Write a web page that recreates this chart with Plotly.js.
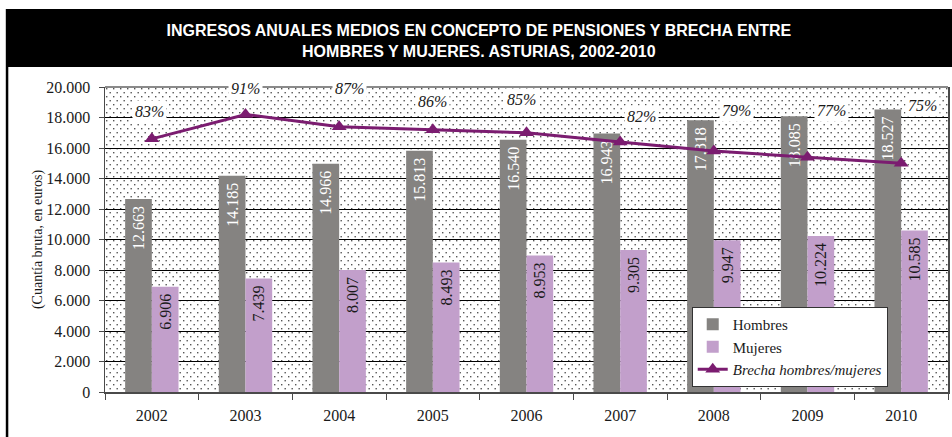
<!DOCTYPE html>
<html>
<head>
<meta charset="utf-8">
<script src="https://cdn.plot.ly/plotly-3.0.1.min.js"></script>
<style>html,body{margin:0;padding:0;background:#fff;}#chart{width:952px;height:437px;}</style>
</head>
<body>
<div id="chart"></div>
<script>
// ---- data ----
const years = ['2002','2003','2004','2005','2006','2007','2008','2009','2010'];
const hombres = [12663, 14185, 14966, 15813, 16540, 16943, 17818, 18085, 18527];
const mujeres = [6906, 7439, 8007, 8493, 8953, 9305, 9947, 10224, 10585];
const brecha = [83, 91, 87, 86, 85, 82, 79, 77, 75];
const titleText = 'INGRESOS ANUALES MEDIOS EN CONCEPTO DE PENSIONES Y BRECHA ENTRE<br>HOMBRES Y MUJERES. ASTURIAS, 2002-2010';
const yTitle = '(Cuantía bruta, en euros)';
const seriesNames = ['Hombres', 'Mujeres', 'Brecha hombres/mujeres'];

// ---- label offsets (pixels, styling only) ----
const pctShiftX = [-2, 0, 10, 0, -5, 21, 23, 24, 21];
const pctShiftY = [27, 26, 38, 28, 33, 25, 41, 47, 58];

const serif = "'Liberation Serif', 'Times New Roman', serif";

// dotted pattern background
const pw = 843, ph = 305;
const svg = `<svg xmlns="http://www.w3.org/2000/svg" width="${pw}" height="${ph}"><defs><pattern id="p" width="7" height="8" patternUnits="userSpaceOnUse"><rect width="7" height="8" fill="#ffffff"/><rect x="1" y="1" width="1.4" height="1.4" fill="#555555"/><rect x="4.5" y="5" width="1.4" height="1.4" fill="#555555"/></pattern></defs><rect width="${pw}" height="${ph}" fill="url(#p)"/></svg>`;
const bgSrc = 'data:image/svg+xml;charset=utf-8,' + encodeURIComponent(svg);

const traces = [
  {
    type: 'bar', name: seriesNames[0], x: years, y: hombres,
    marker: {color: '#858381'},
    texttemplate: '%{y:,.0f}\u00a0', textposition: 'inside',
    insidetextanchor: 'end', textangle: -90,
    textfont: {family: serif, size: 16, color: '#ffffff'},
    hoverinfo: 'x+y'
  },
  {
    type: 'bar', name: seriesNames[1], x: years, y: mujeres,
    marker: {color: '#c29fcb'},
    texttemplate: '%{y:,.0f}\u00a0', textposition: 'inside',
    insidetextanchor: 'end', textangle: -90,
    textfont: {family: serif, size: 16, color: '#1a1a1a'},
    hoverinfo: 'x+y'
  },
  {
    type: 'scatter', mode: 'lines+markers', name: '<i>' + seriesNames[2] + '</i>',
    x: years, y: brecha, yaxis: 'y2',
    line: {color: '#7b1c70', width: 3},
    marker: {symbol: 'triangle-up', size: 13, color: '#7b1c70'},
    hoverinfo: 'x+y'
  }
];

const annotations = brecha.map((v, i) => ({
  x: i, y: v, xref: 'x', yref: 'y2',
  text: '<i>' + v + '%</i>', showarrow: false,
  xshift: pctShiftX[i], yshift: pctShiftY[i],
  font: {family: serif, size: 16, color: '#1a1a1a'},
  bgcolor: '#ffffff', borderpad: 2
}));

const layout = {
  width: 952, height: 437,
  margin: {l: 105, r: 4, t: 87, b: 45},
  paper_bgcolor: '#ffffff', plot_bgcolor: '#ffffff',
  separators: ',.',
  barmode: 'group', bargap: 0.43, bargroupgap: 0,
  font: {family: serif, size: 16, color: '#1a1a1a'},
  title: {
    text: titleText, x: 0.503, xanchor: 'center', y: 0.917, yanchor: 'middle',
    font: {family: "'Liberation Sans', Arial, sans-serif", size: 16, color: '#ffffff', weight: 'bold'}
  },
  xaxis: {
    type: 'category', range: [-0.5, years.length - 0.5], autorange: false,
    showgrid: false, showline: true, linecolor: '#4a4a4a', linewidth: 1.5,
    ticks: 'outside', tickson: 'boundaries', ticklen: 6, tickcolor: '#4a4a4a',
    tickfont: {family: serif, size: 16, color: '#1a1a1a'}, ticklabelstandoff: 8
  },
  yaxis: {
    range: [0, 20000], dtick: 2000, tickformat: ',.0f',
    showgrid: true, gridcolor: '#000000', gridwidth: 1, zeroline: false,
    showline: true, linecolor: '#4a4a4a', linewidth: 1.5,
    ticks: 'outside', ticklen: 5, tickcolor: '#4a4a4a',
    tickfont: {family: serif, size: 16, color: '#1a1a1a'}, ticklabelstandoff: 5,
    title: {text: yTitle, font: {family: serif, size: 14, color: '#1a1a1a'}, standoff: 0}
  },
  yaxis2: {
    overlaying: 'y', side: 'right', range: [0, 100],
    showgrid: false, zeroline: false, showticklabels: false, ticks: '',
    showline: true, linecolor: '#4a4a4a', linewidth: 2
  },
  legend: {
    x: 0.696, xanchor: 'left', y: 0.0164, yanchor: 'bottom',
    bgcolor: '#ffffff', bordercolor: '#333333', borderwidth: 1,
    font: {family: serif, size: 15, color: '#1a1a1a'},
    tracegroupgap: 0, itemwidth: 30, traceorder: 'normal'
  },
  images: [{
    source: bgSrc, xref: 'paper', yref: 'paper', x: 0, y: 1, sizex: 1, sizey: 1,
    xanchor: 'left', yanchor: 'top', sizing: 'stretch', layer: 'below'
  }],
  shapes: [
    {type: 'rect', xref: 'paper', yref: 'paper', x0: -0.1174, x1: 1.006, y0: 1.0656, y1: 1.2557,
     fillcolor: '#000000', line: {width: 0}, layer: 'below'},
    {type: 'line', xref: 'paper', yref: 'paper', x0: -0.1162, x1: -0.1162, y0: -0.16, y1: 1.2557,
     line: {color: '#000000', width: 2.5}},
    {type: 'line', xref: 'paper', yref: 'paper', x0: 0, x1: 1, y0: 1, y1: 1,
     line: {color: '#8a8a8a', width: 2}}
  ],
  annotations: annotations,
  showlegend: true
};

Plotly.newPlot('chart', traces, layout, {staticPlot: true, displayModeBar: false});
</script>
</body>
</html>
